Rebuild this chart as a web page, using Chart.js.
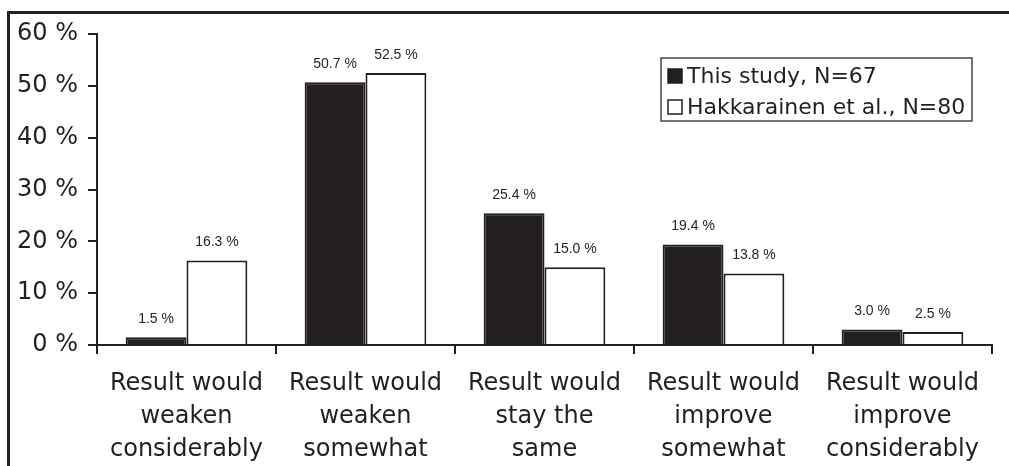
<!DOCTYPE html>
<html>
<head>
<meta charset="utf-8">
<script src="https://cdn.jsdelivr.net/npm/chart.js@4/dist/chart.umd.min.js"></script>
<style>
  html, body { margin: 0; padding: 0; background: #fff; }
  #wrap { position: relative; width: 1009px; height: 466px; overflow: hidden; }
  #frame { position: absolute; left: 7px; top: 11px; width: 1100px; height: 600px;
           border-left: 3px solid #222; border-top: 3px solid #222; box-sizing: border-box; }
  canvas { position: absolute; left: 0; top: 0; }
</style>
</head>
<body>
<div id="wrap">
  <div id="frame"></div>
  <canvas id="chart" width="1009" height="466"></canvas>
</div>
<script>
const categories = [
  ['Result would', 'weaken', 'considerably'],
  ['Result would', 'weaken', 'somewhat'],
  ['Result would', 'stay the', 'same'],
  ['Result would', 'improve', 'somewhat'],
  ['Result would', 'improve', 'considerably']
];
const thisStudy = [1.5, 50.7, 25.4, 19.4, 3.0];
const hakkarainen = [16.3, 52.5, 15.0, 13.8, 2.5];
const seriesNames = ['This study, N=67', 'Hakkarainen et al., N=80'];
const yTicks = [0, 10, 20, 30, 40, 50, 60];

const ink = '#231f20';

const valueLabels = {
  id: 'valueLabels',
  afterDatasetsDraw(chart) {
    const ctx = chart.ctx;
    ctx.save();
    ctx.font = '14px "Liberation Sans", Arial, sans-serif';
    ctx.fillStyle = ink;
    ctx.textAlign = 'center';
    ctx.textBaseline = 'bottom';
    chart.data.datasets.forEach((ds, i) => {
      chart.getDatasetMeta(i).data.forEach((bar, j) => {
        ctx.fillText(ds.data[j].toFixed(1) + ' %', bar.x, bar.y - 11);
      });
    });
    ctx.restore();
  }
};

const boxLegend = {
  id: 'boxLegend',
  afterDraw(chart) {
    const ctx = chart.ctx;
    const x = 661, y = 58, w = 311, h = 63;
    ctx.save();
    ctx.strokeStyle = '#444';
    ctx.lineWidth = 1.5;
    ctx.strokeRect(x, y, w, h);
    ctx.font = '22px "DejaVu Sans", Verdana, sans-serif';
    ctx.textBaseline = 'middle';
    ctx.textAlign = 'left';
    chart.data.datasets.forEach((ds, i) => {
      const cy = 76 + i * 31;
      ctx.fillStyle = ds.backgroundColor;
      ctx.fillRect(668, cy - 7, 14, 14);
      ctx.strokeStyle = ink;
      ctx.lineWidth = 1.5;
      ctx.strokeRect(668, cy - 7, 14, 14);
      ctx.fillStyle = ink;
      ctx.fillText(ds.label, 687, cy + 1);
    });
    ctx.restore();
  }
};

new Chart(document.getElementById('chart').getContext('2d'), {
  type: 'bar',
  data: {
    labels: categories,
    datasets: [
      { label: seriesNames[0], data: thisStudy, backgroundColor: ink, borderColor: ink, borderWidth: 2,
        categoryPercentage: 0.68, barPercentage: 1.0 },
      { label: seriesNames[1], data: hakkarainen, backgroundColor: '#ffffff', borderColor: ink, borderWidth: 2,
        categoryPercentage: 0.68, barPercentage: 1.0 }
    ]
  },
  options: {
    responsive: false,
    animation: false,
    layout: { padding: { left: 0, top: 34, right: 17, bottom: 0 } },
    plugins: { legend: { display: false }, tooltip: { enabled: false } },
    scales: {
      x: {
        offset: true,
        grid: { offset: true, drawOnChartArea: false, tickLength: 9, color: ink, lineWidth: 2 },
        border: { color: ink, width: 2 },
        ticks: {
          color: ink, padding: 13, maxRotation: 0, autoSkip: false,
          font: { family: '"DejaVu Sans", Verdana, sans-serif', size: 24, lineHeight: 1.38 }
        },
        afterFit(scale) { scale.height = 121; }
      },
      y: {
        min: 0, max: 60,
        afterBuildTicks(scale) { scale.ticks = yTicks.map(v => ({ value: v })); },
        grid: { drawOnChartArea: false, tickLength: 9, color: ink, lineWidth: 2 },
        border: { color: ink, width: 2 },
        ticks: {
          color: ink, padding: 10,
          font: { family: '"DejaVu Sans", Verdana, sans-serif', size: 24 },
          callback: v => v + ' %'
        },
        afterFit(scale) { scale.width = 97; }
      }
    }
  },
  plugins: [valueLabels, boxLegend]
});
</script>
</body>
</html>
